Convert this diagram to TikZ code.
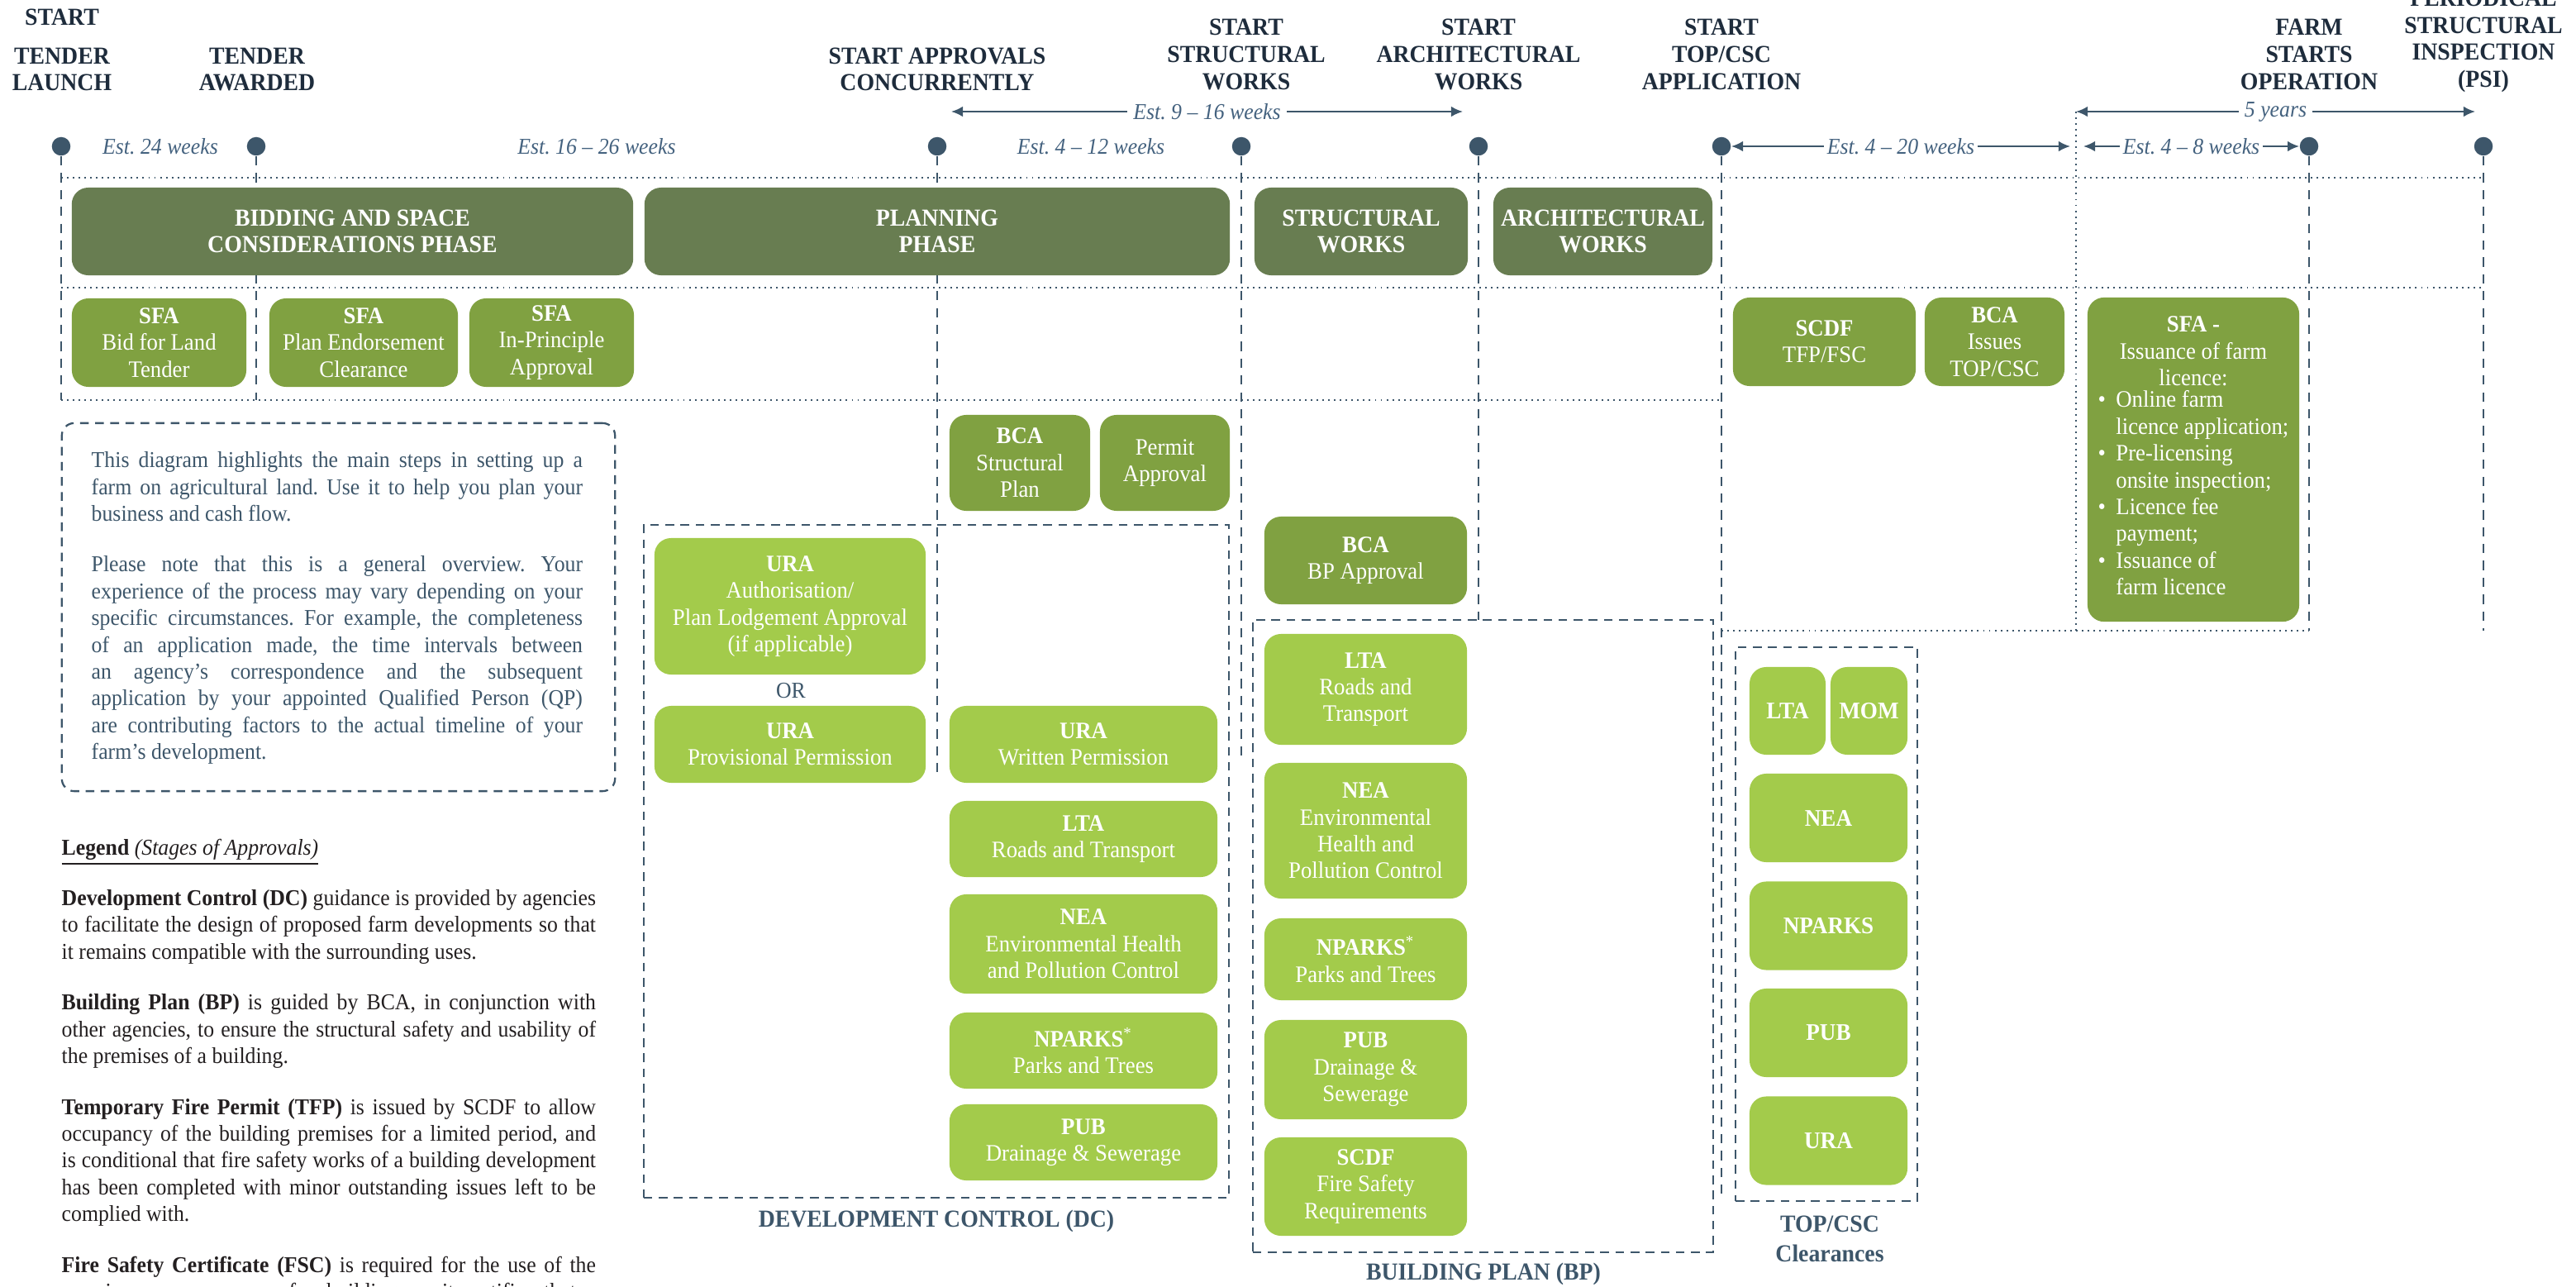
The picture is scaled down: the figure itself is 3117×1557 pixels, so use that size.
\documentclass[tikz,border=0pt]{standalone}
\usepackage{fontspec}
\setmainfont{Liberation Serif}[FakeStretch=0.94]
\usetikzlibrary{arrows.meta}

\definecolor{navy}{HTML}{3D566A}
\definecolor{ink}{HTML}{1E2C3C}
\definecolor{slate}{HTML}{44627F}
\definecolor{phasegreen}{HTML}{687D51}
\definecolor{midgreen}{HTML}{80A141}
\definecolor{lightgreen}{HTML}{A3CB4B}
\definecolor{legendink}{HTML}{231F20}

\frenchspacing

\begin{document}
\begin{tikzpicture}[x=0.01cm, y=-0.01cm, font=\fontsize{7.8}{9.2}\selectfont]
	\tikzstyle{mdot}       = [circle, minimum size=0.225cm, inner sep=0pt, fill=navy]
	\tikzstyle{toplabel}   = [align=center, text=ink, font=\fontsize{8.4}{9.3}\selectfont\bfseries]
	\tikzstyle{estlabel}   = [text=slate, font=\fontsize{7.8}{9}\selectfont\itshape]
	\tikzstyle{phasebox}   = [rectangle, rounded corners=0.2cm, inner sep=0pt, fill=phasegreen, text=white, align=center, minimum height=1.06cm, font=\fontsize{8.4}{9.3}\selectfont\bfseries]
	\tikzstyle{boxM}       = [rectangle, rounded corners=0.2cm, inner sep=0pt, fill=midgreen, text=white, align=center, font=\fontsize{8.1}{9.2}\selectfont]
	\tikzstyle{boxL}       = [rectangle, rounded corners=0.2cm, inner sep=0pt, fill=lightgreen, text=white, align=center, font=\fontsize{8.1}{9.2}\selectfont]
	\tikzstyle{tline}      = [draw=navy, line width=0.6pt, dash pattern=on 3.2pt off 2.6pt]
	\tikzstyle{dotline}    = [draw=navy, line width=0.55pt, dash pattern=on 0.55pt off 1.45pt]
	\tikzstyle{dashframe}  = [draw=navy, line width=0.65pt, dash pattern=on 3pt off 2.2pt, inner sep=0pt]
	\tikzstyle{framelabel} = [align=center, text=navy, font=\fontsize{8.4}{10.2}\selectfont\bfseries]
	\tikzstyle{spanarrow}  = [draw=navy, line width=0.6pt, {Latex[length=4pt,width=3.6pt]}-{Latex[length=4pt,width=3.6pt]}]

	\useasboundingbox (0,0) rectangle (3117,1557);

	% milestone captions
	\node[toplabel] (startL) at (75,21) {START};
	\node[toplabel] (launchL) at (75,84) {TENDER\\LAUNCH};
	\node[toplabel] (awardL) at (311,84) {TENDER\\AWARDED};
	\node[toplabel] (approveL) at (1134,84) {START APPROVALS\\CONCURRENTLY};
	\node[toplabel] (structL) at (1508,66) {START\\STRUCTURAL\\WORKS};
	\node[toplabel] (archL) at (1789,66) {START\\ARCHITECTURAL\\WORKS};
	\node[toplabel] (topL) at (2083,66) {START\\TOP/CSC\\APPLICATION};
	\node[toplabel] (farmL) at (2794,66) {FARM\\STARTS\\OPERATION};
	\node[toplabel] (psiL) at (3005,50) {PERIODICAL\\STRUCTURAL\\INSPECTION\\(PSI)};

	% dotted row guides
	\foreach \y/\xa/\xb in {215/74/3005, 348/74/3005, 484/74/2083, 763/2083/2794}
		\draw[dotline] (\xa,\y) -- (\xb,\y);
	\coordinate (fiveL) at (2512,135);
	\coordinate (fiveLend) at (2512,763);
	\draw[dotline] (fiveL) -- (fiveLend);

	% milestones and their drop lines
	\foreach \name/\x/\yend in {mLaunch/74/484, mAward/310/484, mApprove/1134/938, mStruct/1502/918, mArch/1789/750, mTop/2083/1444, mFarm/2794/763, mPsi/3005/763}
	{
		\node[mdot] (\name) at (\x,177) {};
		\coordinate (\name end) at (\x,\yend);
		\draw[tline] (\name) -- (\name end);
	}

	% durations
	\node[estlabel] (est1) at (194,177) {Est. 24 weeks};
	\node[estlabel] (est2) at (722,177) {Est. 16 -- 26 weeks};
	\node[estlabel] (est3) at (1320,177) {Est. 4 -- 12 weeks};
	\coordinate (spanAl) at (1151,135);
	\coordinate (spanAr) at (1770,135);
	\draw[spanarrow] (spanAl) -- (spanAr) node[midway, estlabel, fill=white, inner xsep=2pt] (est4) {Est. 9 -- 16 weeks};
	\coordinate (spanBr) at (2505,177);
	\draw[spanarrow] (mTop) -- (spanBr) node[midway, estlabel, fill=white, inner xsep=1pt] (est5) {Est. 4 -- 20 weeks};
	\coordinate (spanCl) at (2521,177);
	\draw[spanarrow] (spanCl) -- (mFarm) node[midway, estlabel, fill=white, inner xsep=1pt] (est6) {Est. 4 -- 8 weeks};
	\coordinate (spanDr) at (2995,135);
	\draw[spanarrow] (fiveL) -- (spanDr) node[midway, estlabel, fill=white, inner xsep=2pt] (est7) {5 years};

	% phases
	\node[phasebox, minimum width=6.79cm] (bid) at (426.5,280) {BIDDING AND SPACE\\CONSIDERATIONS PHASE};
	\node[phasebox, minimum width=7.08cm] (plan) at (1134,280) {PLANNING\\PHASE};
	\node[phasebox, minimum width=2.58cm] (struct) at (1647,280) {STRUCTURAL\\WORKS};
	\node[phasebox, minimum width=2.65cm] (arch) at (1939.5,280) {ARCHITECTURAL\\WORKS};

	% approvals row
	\node[boxM, minimum width=2.11cm, minimum height=1.07cm] (sfaBid) at (192.5,414.5) {\textbf{SFA}\\Bid for Land\\Tender};
	\node[boxM, minimum width=2.28cm, minimum height=1.07cm] (sfaPec) at (440,414.5) {\textbf{SFA}\\Plan Endorsement\\Clearance};
	\node[boxM, minimum width=1.99cm, minimum height=1.07cm] (sfaIpa) at (667.5,414.5) {\textbf{SFA}\\In-Principle\\Approval};
	\node[boxM, minimum width=1.70cm, minimum height=1.16cm] (bcaSp) at (1234,560) {\textbf{BCA}\\Structural\\Plan};
	\node[boxM, minimum width=1.57cm, minimum height=1.16cm] (permit) at (1409.5,560) {Permit\\Approval};
	\node[boxM, minimum width=2.45cm, minimum height=1.06cm] (bcaBp) at (1652.5,678) {\textbf{BCA}\\BP Approval};
	\node[boxM, minimum width=2.21cm, minimum height=1.07cm] (scdfTfp) at (2207.5,413.5) {\textbf{SCDF}\\TFP/FSC};
	\node[boxM, minimum width=1.69cm, minimum height=1.07cm] (bcaTop) at (2413.5,413.5) {\textbf{BCA}\\Issues\\TOP/CSC};
	\node[boxM, minimum width=2.56cm, minimum height=3.92cm] (sfaLic) at (2654,556) {\textbf{SFA -}\\Issuance of farm\\licence:\\
		\begin{tabular}{@{}l@{\hspace{3.5pt}}l@{}}
			\textbullet & Online farm\\
			& licence application;\\
			\textbullet & Pre-licensing\\
			& onsite inspection;\\
			\textbullet & Licence fee\\
			& payment;\\
			\textbullet & Issuance of\\
			& farm licence
		\end{tabular}};

	% development control
	\node[dashframe, minimum width=7.08cm, minimum height=8.14cm] (dcFrame) at (1133,1042) {};
	\node[framelabel] (dcLabel) at (1133,1477) {DEVELOPMENT CONTROL (DC)};
	\node[boxL, minimum width=3.28cm, minimum height=1.65cm] (uraAuth) at (956,733.5) {\textbf{URA}\\Authorisation/\\Plan Lodgement Approval\\(if applicable)};
	\node[text=navy] (orL) at (957,836) {OR};
	\node[boxL, minimum width=3.28cm, minimum height=0.93cm] (uraProv) at (956,900.5) {\textbf{URA}\\Provisional Permission};
	\node[boxL, minimum width=3.24cm, minimum height=0.93cm] (uraWp) at (1311,900.5) {\textbf{URA}\\Written Permission};
	\node[boxL, minimum width=3.24cm, minimum height=0.92cm] (ltaDc) at (1311,1015) {\textbf{LTA}\\Roads and Transport};
	\node[boxL, minimum width=3.24cm, minimum height=1.20cm] (neaDc) at (1311,1142) {\textbf{NEA}\\Environmental Health\\and Pollution Control};
	\node[boxL, minimum width=3.24cm, minimum height=0.92cm] (npDc) at (1311,1271) {\textbf{NPARKS}\textsuperscript{*}\\Parks and Trees};
	\node[boxL, minimum width=3.24cm, minimum height=0.92cm] (pubDc) at (1311,1382) {\textbf{PUB}\\Drainage \& Sewerage};

	% building plan
	\node[dashframe, minimum width=5.57cm, minimum height=7.65cm] (bpFrame) at (1794.5,1132.5) {};
	\node[framelabel] (bpLabel) at (1795,1541) {BUILDING PLAN (BP)};
	\node[boxL, minimum width=2.45cm, minimum height=1.34cm] (ltaBp) at (1652.5,834) {\textbf{LTA}\\Roads and\\Transport};
	\node[boxL, minimum width=2.45cm, minimum height=1.64cm] (neaBp) at (1652.5,1005) {\textbf{NEA}\\Environmental\\Health and\\Pollution Control};
	\node[boxL, minimum width=2.45cm, minimum height=0.99cm] (npBp) at (1652.5,1160.5) {\textbf{NPARKS}\textsuperscript{*}\\Parks and Trees};
	\node[boxL, minimum width=2.45cm, minimum height=1.20cm] (pubBp) at (1652.5,1294) {\textbf{PUB}\\Drainage \&\\Sewerage};
	\node[boxL, minimum width=2.45cm, minimum height=1.19cm] (scdfBp) at (1652.5,1435.5) {\textbf{SCDF}\\Fire Safety\\Requirements};

	% top/csc clearances
	\node[dashframe, minimum width=2.20cm, minimum height=6.70cm] (topFrame) at (2210,1118) {};
	\node[framelabel] (topLabel) at (2214,1499) {TOP/CSC\\Clearances};
	\node[boxL, minimum width=0.92cm, minimum height=1.06cm, font=\fontsize{8.2}{9.2}\selectfont\bfseries] (ltaTop) at (2163,860) {LTA};
	\node[boxL, minimum width=0.93cm, minimum height=1.06cm, font=\fontsize{8.2}{9.2}\selectfont\bfseries] (momTop) at (2261.5,860) {MOM};
	\foreach \name/\y/\txt in {neaTop/989.5/NEA, npTop/1120/NPARKS, pubTop/1249.5/PUB, uraTop/1380/URA}
		\node[boxL, minimum width=1.91cm, minimum height=1.07cm, font=\fontsize{8.2}{9.2}\selectfont\bfseries] (\name) at (2212.5,\y) {\txt};

	% notes
	\node[dashframe, rounded corners=0.15cm, minimum width=6.69cm, minimum height=4.45cm] (note) at (409.5,734.5) {};
	\node[anchor=north west, inner sep=0pt, text width=5.94cm, align=justify, text=navy] (noteText) at (110,546) {This diagram highlights the main steps in setting up a\linebreak farm on agricultural land. Use it to help you plan your\linebreak business and cash flow.\par\vspace{8.3pt}
		Please note that this is a general overview. Your\linebreak experience of the process may vary depending on your\linebreak specific circumstances. For example, the completeness\linebreak of an application made, the time intervals between\linebreak an agency's correspondence and the subsequent\linebreak application by your appointed Qualified Person (QP)\linebreak are contributing factors to the actual timeline of your\linebreak farm's development.};

	\node[anchor=north west, inner sep=0pt, text width=6.46cm, align=justify, text=legendink] (legend) at (74,1014) {\underline{\textbf{Legend} \textit{(Stages of Approvals)}}\par\vspace{8.3pt}
		\textbf{Development Control (DC)} guidance is provided by agencies\linebreak to facilitate the design of proposed farm developments so that\linebreak it remains compatible with the surrounding uses.\par\vspace{8.3pt}
		\textbf{Building Plan (BP)} is guided by BCA, in conjunction with\linebreak other agencies, to ensure the structural safety and usability of\linebreak the premises of a building.\par\vspace{8.3pt}
		\textbf{Temporary Fire Permit (TFP)} is issued by SCDF to allow\linebreak occupancy of the building premises for a limited period, and\linebreak is conditional that fire safety works of a building development\linebreak has been completed with minor outstanding issues left to be\linebreak complied with.\par\vspace{8.3pt}
		{\parfillskip=0pt \textbf{Fire Safety Certificate (FSC)} is required for the use of the\linebreak premises or occupancy of a building, as it certifies that a\par}};
\end{tikzpicture}
\end{document}
